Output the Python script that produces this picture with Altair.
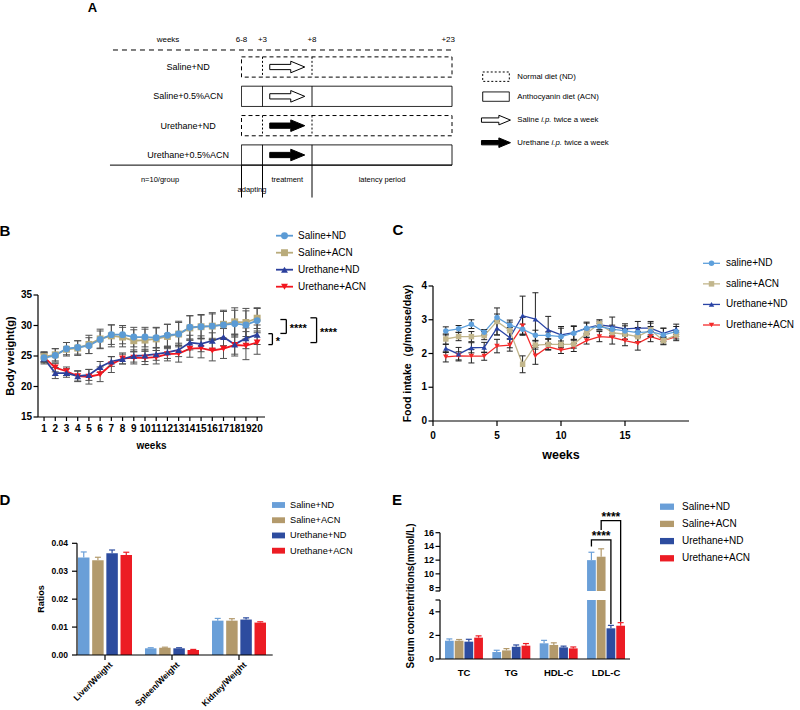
import altair as alt
import pandas as pd

FONT = "Liberation Sans"
W, H = 800, 710

# ---------------- Panel A: study design ----------------
groups = ["Saline+ND", "Saline+0.5%ACN", "Urethane+ND", "Urethane+0.5%ACN"]
group_diet = ["ND", "ACN", "ND", "ACN"]
group_injection = ["Saline", "Saline", "Urethane", "Urethane"]
stage_weeks = [0, 3, 8, 23]
stage_labels = ["6-8", "+3", "+8", "+23"]
phase_names = ["adapting", "treatment", "latency period"]
group_size_note = "n=10/group"
diet_kinds = ["ND", "ACN"]
diet_names = ["Normal diet (ND)", "Anthocyanin diet (ACN)"]
injections = ["Saline", "Urethane"]

# ---------------- Panel B: body weight ----------------
weeks_b = list(range(1, 21))
series_b = ["Saline+ND", "Saline+ACN", "Urethane+ND", "Urethane+ACN"]
bw_saline_nd = [24.7, 25.1, 26.2, 26.4, 26.7, 27.7, 28.5, 28.5, 28.1, 28.1, 28.0, 28.4, 28.6, 29.7, 29.8, 29.9, 30.1, 30.3, 30.1, 30.8]
bw_saline_acn = [24.9, 25.2, 26.1, 26.3, 26.9, 27.8, 28.3, 28.1, 27.5, 27.6, 27.8, 28.2, 28.6, 29.6, 29.8, 29.9, 30.2, 30.6, 30.5, 31.2]
bw_urethane_nd = [24.6, 22.2, 22.2, 21.7, 21.9, 23.2, 24.1, 24.5, 25.0, 25.1, 25.3, 25.6, 26.0, 27.2, 27.0, 27.5, 28.1, 26.9, 27.9, 28.5]
bw_urethane_acn = [24.8, 23.1, 22.5, 21.7, 21.6, 22.0, 23.6, 24.6, 24.7, 24.7, 24.8, 25.3, 25.4, 26.2, 26.3, 25.9, 26.2, 26.8, 26.7, 27.2]
sd_saline_nd = [0.8, 1.1, 1.0, 1.1, 1.3, 1.4, 1.6, 1.5, 1.6, 1.6, 1.6, 1.8, 1.9, 1.9, 1.9, 2.0, 2.2, 2.2, 2.3, 2.0]
sd_saline_acn = [0.8, 1.0, 1.1, 1.2, 1.5, 1.6, 1.8, 1.6, 1.8, 1.8, 1.9, 2.0, 2.1, 2.0, 2.0, 2.2, 2.3, 2.3, 2.3, 1.7]
sd_urethane_nd = [0.9, 0.9, 0.7, 0.8, 0.9, 0.9, 0.8, 0.8, 1.0, 1.0, 1.0, 1.0, 1.1, 1.2, 1.3, 1.3, 1.4, 1.6, 1.7, 1.6]
sd_urethane_acn = [0.8, 0.7, 0.7, 0.9, 1.2, 1.2, 1.3, 0.9, 1.0, 1.1, 1.1, 1.1, 1.4, 1.4, 1.6, 1.7, 1.6, 1.8, 2.3, 1.9]
ticks_b_y = [15, 20, 25, 30, 35]
sig_b_labels = ["*", "****", "****"]
sig_b_top = [28.66, 30.98, 31.26]
sig_b_bottom = [26.87, 28.7, 27.2]

# ---------------- Panel C: food intake ----------------
weeks_c = list(range(1, 20))
series_c = ["saline+ND", "saline+ACN", "Urethane+ND", "Urethane+ACN"]
fi_saline_nd = [2.67, 2.73, 2.87, 2.63, 3.07, 2.84, 2.72, 2.54, 2.54, 2.50, 2.60, 2.75, 2.80, 2.72, 2.67, 2.62, 2.65, 2.55, 2.65]
fi_saline_acn = [2.43, 2.50, 2.50, 2.53, 2.95, 2.68, 1.68, 2.25, 2.27, 2.27, 2.28, 2.60, 2.88, 2.62, 2.57, 2.50, 2.70, 2.38, 2.55]
fi_urethane_nd = [2.15, 1.98, 2.17, 2.18, 2.75, 2.47, 3.12, 3.02, 2.70, 2.55, 2.62, 2.75, 2.85, 2.80, 2.73, 2.75, 2.75, 2.60, 2.72]
fi_urethane_acn = [1.90, 1.93, 1.92, 1.92, 2.22, 2.25, 2.82, 1.93, 2.20, 2.10, 2.18, 2.38, 2.50, 2.48, 2.38, 2.30, 2.50, 2.38, 2.50]
fe_saline_nd = [0.12, 0.10, 0.13, 0.08, 0.10, 0.15, 0.15, 0.15, 0.10, 0.25, 0.20, 0.15, 0.10, 0.12, 0.15, 0.15, 0.15, 0.20, 0.15]
fe_saline_acn = [0.15, 0.12, 0.15, 0.12, 0.40, 0.25, 0.25, 0.12, 0.15, 0.10, 0.12, 0.12, 0.08, 0.10, 0.15, 0.15, 0.20, 0.12, 0.12]
fe_urethane_nd = [0.12, 0.20, 0.15, 0.15, 0.20, 0.30, 0.58, 0.78, 0.40, 0.25, 0.20, 0.18, 0.15, 0.28, 0.15, 0.20, 0.20, 0.15, 0.15]
fe_urethane_acn = [0.15, 0.12, 0.20, 0.12, 0.20, 0.18, 0.25, 0.25, 0.10, 0.10, 0.12, 0.10, 0.15, 0.20, 0.15, 0.20, 0.15, 0.10, 0.12]
ticks_c_x = [0, 5, 10, 15]
ticks_c_y = [0, 1, 2, 3, 4]

# ---------------- Panel D: organ ratios ----------------
organs = ["Liver/Weight", "Spleen/Weight", "Kidney/Weight"]
series_bar = ["Saline+ND", "Saline+ACN", "Urethane+ND", "Urethane+ACN"]
ratio_saline_nd = [0.0349, 0.0024, 0.0123]
ratio_saline_acn = [0.0339, 0.0026, 0.0123]
ratio_urethane_nd = [0.0364, 0.0024, 0.0127]
ratio_urethane_acn = [0.0358, 0.0018, 0.0116]
ratio_err_saline_nd = [0.0020, 0.0002, 0.0008]
ratio_err_saline_acn = [0.0011, 0.0002, 0.0007]
ratio_err_urethane_nd = [0.0012, 0.0002, 0.0006]
ratio_err_urethane_acn = [0.0010, 0.0002, 0.0003]
ticks_d_y = [0, 0.01, 0.02, 0.03, 0.04]
tick_labels_d_y = ["0.00", "0.01", "0.02", "0.03", "0.04"]

# ---------------- Panel E: serum lipids ----------------
lipids = ["TC", "TG", "HDL-C", "LDL-C"]
lipid_saline_nd = [1.55, 0.59, 1.33, 12.0]
lipid_saline_acn = [1.55, 0.73, 1.19, 12.5]
lipid_urethane_nd = [1.47, 1.04, 0.99, 2.6]
lipid_urethane_acn = [1.81, 1.13, 0.90, 2.82]
lipid_err_saline_nd = [0.15, 0.15, 0.25, 1.15]
lipid_err_saline_acn = [0.10, 0.15, 0.18, 1.15]
lipid_err_urethane_nd = [0.20, 0.15, 0.10, 0.25]
lipid_err_urethane_acn = [0.15, 0.18, 0.12, 0.26]
sig_e_labels = ["****", "****"]
sig_e_pairs = [("Saline+ND", "Urethane+ND"), ("Saline+ACN", "Urethane+ACN")]
sig_e_top = [14.94, 17.75]
sig_e_left_end = [14.0, 16.4]
sig_e_right_end = [2.97, 3.16]
axis_break = [5, 7.5]
axis_top = 16
ticks_e_y = [0, 2, 4, 5, 7.5, 8, 10, 12, 14, 16]
tick_labels_e_y = ["0", "2", "4", "", "", "8", "10", "12", "14", "16"]

# ---------------- styles ----------------
colors_b = ["#5b9bd5", "#b9ab7b", "#2b3f9c", "#f2161f"]
colors_c = ["#5ea0dc", "#c2b68c", "#2a44a5", "#f42a2a"]
colors_bar = ["#6a9fd8", "#b39a6c", "#2d4c9f", "#ec1c24"]
shapes = ["circle", "square", "triangle-up", "triangle-down"]
ARROW = "M-1,-0.15L0.2,-0.15L0.2,-0.33L1,0L0.2,0.33L0.2,0.15L-1,0.15Z"
RECT = "M-1,-0.45L1,-0.45L1,0.45L-1,0.45Z"
AX_W = 1.2


def long_df(xname, xs, catname, cats, values, errs):
    return pd.DataFrame({
        xname: [x for _ in cats for x in xs],
        catname: [c for c in cats for _ in xs],
        "value": [v for vals in values for v in vals],
        "err": [e for es in errs for e in es],
    })


def text_mark(**kw):
    base = dict(font=FONT, color="black")
    base.update(kw)
    return base


# ---------- hand-built axes (drawn through each panel's own scales) ----------
def y_axis(scale, values, labels, x0, segments, tick=4.5, pad=1.5, fs=10):
    df = pd.DataFrame({"v": values, "lab": labels})
    y = alt.Y("v:Q", scale=scale, axis=None)
    seg = pd.DataFrame({"a": [s[0] for s in segments], "b": [s[1] for s in segments]})
    return [
        alt.Chart(seg).mark_rule(color="black", strokeWidth=AX_W).encode(
            x=alt.value(x0), y=alt.Y("a:Q", scale=scale, axis=None), y2="b:Q"),
        alt.Chart(df).mark_rule(color="black", strokeWidth=AX_W).encode(
            x=alt.value(x0 - tick), x2=alt.value(x0), y=y),
        alt.Chart(df).mark_text(**text_mark(align="right", baseline="middle", fontSize=fs, fontWeight="bold")).encode(
            x=alt.value(x0 - tick - pad), y=y, text="lab:N"),
    ]


def x_axis_q(scale, values, labels, y0, lo, hi, tick=4.5, pad=2, fs=10):
    df = pd.DataFrame({"v": values, "lab": labels})
    x = alt.X("v:Q", scale=scale, axis=None)
    dom = pd.DataFrame({"a": [lo], "b": [hi]})
    return [
        alt.Chart(dom).mark_rule(color="black", strokeWidth=AX_W).encode(
            x=alt.X("a:Q", scale=scale, axis=None), x2="b:Q", y=alt.value(y0)),
        alt.Chart(df).mark_rule(color="black", strokeWidth=AX_W).encode(
            x=x, y=alt.value(y0), y2=alt.value(y0 + tick)),
        alt.Chart(df).mark_text(**text_mark(align="center", baseline="top", fontSize=fs, fontWeight="bold")).encode(
            x=x, y=alt.value(y0 + tick + pad), text="lab:N"),
    ]


def x_axis_band(scale, cats, y0, x_lo, x_hi, tick, label_y, fs, angle=0, align="center",
                baseline="middle", ldx=0, ldy=0):
    df = pd.DataFrame({"c": cats})
    x = alt.X("c:N", scale=scale, axis=None, sort=cats)
    out = [alt.Chart(pd.DataFrame({"a": [0]})).mark_rule(color="black", strokeWidth=AX_W).encode(
        x=alt.value(x_lo), x2=alt.value(x_hi), y=alt.value(y0))]
    if tick > 0:
        out.append(alt.Chart(df).mark_rule(color="black", strokeWidth=AX_W).encode(
            x=x, y=alt.value(y0), y2=alt.value(y0 + tick)))
    out.append(alt.Chart(df).mark_text(**text_mark(align=align, baseline=baseline, fontSize=fs,
                                                   fontWeight="bold", angle=angle, dx=ldx, dy=ldy)).encode(
        x=x, y=alt.value(label_y), text="c:N"))
    return out


def title_text(t, x, y, fs, angle=0):
    return alt.Chart(pd.DataFrame({"t": [t]})).mark_text(
        **text_mark(align="center", baseline="middle", fontSize=fs, fontWeight="bold", angle=angle)).encode(
        x=alt.value(x), y=alt.value(y), text="t:N")


# ======================= Panel A =======================
xA = alt.Scale(domain=stage_weeks, range=[241.5, 262.5, 312, 452])
yA = alt.Scale(domain=[0, 3], range=[67, 155])


def ax(f):
    return alt.X(f + ":Q", scale=xA, axis=None)


def ay(f):
    return alt.Y(f + ":Q", scale=yA, axis=None)


BOX = 0.345
HDR_Y, HDR_LINE_Y = -0.92, -0.58
LINE_X0, BOTTOM_X0 = -18.36, -18.79
NAME_X, WEEKS_X, NOTE_X = -7.64, -10.5, -11.64
PHASE_Y = 3.85
rows_df = pd.DataFrame({"group": groups, "row": list(range(len(groups))),
                        "diet": group_diet, "inj": group_injection,
                        "start": stage_weeks[0], "end": stage_weeks[-1]})
box_calc = dict(top=f"datum.row - {BOX}", bot=f"datum.row + {BOX}")

a_layers = []
for kind, dash in [("ND", [4, 3]), ("ACN", [1, 0])]:
    a_layers.append(
        alt.Chart(rows_df).transform_filter(f"datum.diet == '{kind}'")
        .transform_calculate(**box_calc)
        .mark_rect(fill="transparent", stroke="black", strokeWidth=1, strokeDash=dash)
        .encode(x=ax("start"), x2="end:Q", y=ay("top"), y2="bot:Q"))
div_df = pd.DataFrame([{"row": i, "diet": d, "week": w}
                       for i, d in enumerate(group_diet) for w in stage_weeks[1:-1]])
for kind, dash in [("ND", [2, 2]), ("ACN", [1, 0])]:
    a_layers.append(
        alt.Chart(div_df).transform_filter(f"datum.diet == '{kind}'")
        .transform_calculate(**box_calc)
        .mark_rule(color="black", strokeWidth=1, strokeDash=dash)
        .encode(x=ax("week"), y=ay("top"), y2="bot:Q"))
a_layers.append(
    alt.Chart(rows_df).transform_calculate(nx=str(NAME_X))
    .mark_text(**text_mark(fontSize=9, align="center", baseline="middle"))
    .encode(x=ax("nx"), y=ay("row"), text="group:N"))
a_layers.append(
    alt.Chart(rows_df)
    .transform_calculate(mx=f"({stage_weeks[1]} + {stage_weeks[2]}) / 2")
    .mark_point(shape=ARROW, size=1225, filled=True, opacity=1, stroke="black", strokeWidth=1)
    .encode(x=ax("mx"), y=ay("row"),
            fill=alt.Fill("inj:N", scale=alt.Scale(domain=injections, range=["white", "black"]), legend=None)))
hdr_df = pd.DataFrame({"week": stage_weeks, "label": stage_labels})
a_layers.append(
    alt.Chart(hdr_df).transform_filter(f"datum.week < {stage_weeks[-1]}")
    .transform_calculate(hy=str(HDR_Y))
    .mark_text(**text_mark(fontSize=8, align="center", baseline="middle"))
    .encode(x=ax("week"), y=ay("hy"), text="label:N"))
a_layers.append(
    alt.Chart(hdr_df).transform_filter(f"datum.week == {stage_weeks[-1]}")
    .transform_calculate(hy=str(HDR_Y))
    .mark_text(**text_mark(fontSize=8, align="right", baseline="middle", dx=3))
    .encode(x=ax("week"), y=ay("hy"), text="label:N"))
a_layers.append(
    alt.Chart(pd.DataFrame({"t": ["weeks"], "x": [WEEKS_X], "y": [HDR_Y]}))
    .mark_text(**text_mark(fontSize=8, align="center", baseline="middle"))
    .encode(x=ax("x"), y=ay("y"), text="t:N"))
a_layers.append(
    alt.Chart(pd.DataFrame({"x0": [LINE_X0], "x1": [stage_weeks[-1]], "y": [HDR_LINE_Y]}))
    .mark_rule(color="black", strokeWidth=1, strokeDash=[5, 4])
    .encode(x=ax("x0"), x2="x1:Q", y=ay("y")))
bottom_y = len(groups) - 1 + BOX
a_layers.append(
    alt.Chart(pd.DataFrame({"x0": [BOTTOM_X0], "x1": [stage_weeks[-1]], "y": [bottom_y]}))
    .mark_rule(color="black", strokeWidth=1)
    .encode(x=ax("x0"), x2="x1:Q", y=ay("y")))
a_layers.append(
    alt.Chart(pd.DataFrame({"week": stage_weeks[:-1]}))
    .transform_calculate(y0=str(bottom_y), y1="4.45")
    .mark_rule(color="black", strokeWidth=1)
    .encode(x=ax("week"), y=ay("y0"), y2="y1:Q"))
phase_df = pd.DataFrame({"phase": phase_names, "start": stage_weeks[:-1], "end": stage_weeks[1:]})
for first, dy in [(True, 10), (False, 0)]:
    cond = "datum.start == 0" if first else "datum.start > 0"
    a_layers.append(
        alt.Chart(phase_df).transform_filter(cond)
        .transform_calculate(mid="(datum.start + datum.end) / 2", py=str(PHASE_Y))
        .mark_text(**text_mark(fontSize=7.5, align="center", baseline="middle", dy=dy))
        .encode(x=ax("mid"), y=ay("py"), text="phase:N"))
a_layers.append(
    alt.Chart(pd.DataFrame({"t": [group_size_note], "x": [NOTE_X], "y": [PHASE_Y]}))
    .mark_text(**text_mark(fontSize=7.5, align="center", baseline="middle"))
    .encode(x=ax("x"), y=ay("y"), text="t:N"))
# design legend
leg_box = pd.DataFrame({"diet": diet_kinds, "label": diet_names, "yc": [0.33, 1.01]})
leg_box["x0"], leg_box["x1"], leg_box["tx"] = 26.29, 29.14, 30.0
for kind, dash in [("ND", [2, 2]), ("ACN", [1, 0])]:
    a_layers.append(
        alt.Chart(leg_box).transform_filter(f"datum.diet == '{kind}'")
        .transform_calculate(t="datum.yc - 0.16", b="datum.yc + 0.16")
        .mark_rect(fill="transparent", stroke="black", strokeWidth=1, strokeDash=dash)
        .encode(x=ax("x0"), x2="x1:Q", y=ay("t"), y2="b:Q"))
a_layers.append(
    alt.Chart(leg_box).mark_text(**text_mark(fontSize=7.8, align="left", baseline="middle"))
    .encode(x=ax("tx"), y=ay("yc"), text="label:N"))
leg_inj = pd.DataFrame({"inj": injections, "yc": [1.81, 2.58]})
leg_inj["x"], leg_inj["tx"] = 27.71, 30.0
a_layers.append(
    alt.Chart(leg_inj).mark_point(shape=ARROW, size=841, filled=True, opacity=1, stroke="black", strokeWidth=1)
    .encode(x=ax("x"), y=ay("yc"),
            fill=alt.Fill("inj:N", scale=alt.Scale(domain=injections, range=["white", "black"]), legend=None)))
for inj, dx1, dx2 in [("Saline", 23.8, 36.4), ("Urethane", 34.2, 46.8)]:
    base = alt.Chart(leg_inj).transform_filter(f"datum.inj == '{inj}'")
    a_layers.append(base.mark_text(**text_mark(fontSize=7.8, align="left", baseline="middle"))
                    .encode(x=ax("tx"), y=ay("yc"), text="inj:N"))
    a_layers.append(base.transform_calculate(t="'i.p.'")
                    .mark_text(**text_mark(fontSize=7.8, fontStyle="italic", align="left", baseline="middle", dx=dx1))
                    .encode(x=ax("tx"), y=ay("yc"), text="t:N"))
    a_layers.append(base.transform_calculate(t="'twice a week'")
                    .mark_text(**text_mark(fontSize=7.8, align="left", baseline="middle", dx=dx2))
                    .encode(x=ax("tx"), y=ay("yc"), text="t:N"))
panel_a = alt.layer(*a_layers)

# ======================= Panel B =======================
b_df = long_df("week", weeks_b, "series", series_b,
               [bw_saline_nd, bw_saline_acn, bw_urethane_nd, bw_urethane_acn],
               [sd_saline_nd, sd_saline_acn, sd_urethane_nd, sd_urethane_acn]).iloc[::-1]
xB = alt.Scale(domain=[0.46, 20.7], range=[38, 265])
yB = alt.Scale(domain=[15, 35], range=[417, 295])
colB = alt.Scale(domain=series_b, range=colors_b)
shpB = alt.Scale(domain=series_b, range=shapes)
bx = alt.X("week:Q", scale=xB, axis=None)
b_line = alt.Chart(b_df).mark_line(strokeWidth=1.8).encode(
    x=bx, y=alt.Y("value:Q", scale=yB, axis=None),
    color=alt.Color("series:N", scale=colB, legend=None))
b_errbase = alt.Chart(b_df).transform_calculate(lo="datum.value - datum.err", hi="datum.value + datum.err")
b_err = b_errbase.mark_rule(color="#505050", strokeWidth=1).encode(
    x=bx, y=alt.Y("lo:Q", scale=yB, axis=None), y2="hi:Q")
b_cap = b_errbase.transform_fold(["lo", "hi"], as_=["end", "cap"]).mark_tick(
    orient="horizontal", size=7, thickness=1, color="#505050", opacity=1).encode(
    x=bx, y=alt.Y("cap:Q", scale=yB, axis=None))
b_pts = alt.Chart(b_df).mark_point(filled=True, opacity=1, size=48).encode(
    x=bx, y=alt.Y("value:Q", scale=yB, axis=None),
    color=alt.Color("series:N", scale=colB, legend=None),
    shape=alt.Shape("series:N", scale=shpB, legend=None))
sig_b = pd.DataFrame({"label": sig_b_labels, "top": sig_b_top, "bottom": sig_b_bottom,
                      "x0": [21.0, 22.07, 24.75], "x1": [21.36, 22.6, 25.3]})
b_sig_v = alt.Chart(sig_b).mark_rule(color="black", strokeWidth=1.3).encode(
    x=alt.X("x1:Q", scale=xB, axis=None), y=alt.Y("top:Q", scale=yB, axis=None), y2="bottom:Q")
b_sig_h = alt.Chart(sig_b).transform_fold(["top", "bottom"], as_=["end", "yy"]).mark_rule(
    color="black", strokeWidth=1.3).encode(
    x=alt.X("x0:Q", scale=xB, axis=None), x2="x1:Q", y=alt.Y("yy:Q", scale=yB, axis=None))
b_sig_t = alt.Chart(sig_b).transform_calculate(
    mid="(datum.top + datum.bottom) / 2", tx="datum.x1 + 0.3").mark_text(
    **text_mark(fontSize=11, fontWeight="bold", align="left", baseline="alphabetic", dy=6)).encode(
    x=alt.X("tx:Q", scale=xB, axis=None), y=alt.Y("mid:Q", scale=yB, axis=None), text="label:N")
b_axes = (y_axis(yB, ticks_b_y, [str(v) for v in ticks_b_y], 38, [(15, 35)], tick=4.5, pad=1.5, fs=10)
          + x_axis_q(xB, weeks_b, [str(w) for w in weeks_b], 417, 0.46, 20.7, tick=4, pad=3, fs=10)
          + [title_text("Body weight(g)", 11, 356, 11, angle=270), title_text("weeks", 151.5, 446, 10)])
panel_b = alt.layer(b_line, b_err, b_cap, b_pts, b_sig_v, b_sig_h, b_sig_t, *b_axes)

# ======================= Panel C =======================
c_df = long_df("week", weeks_c, "series", series_c,
               [fi_saline_nd, fi_saline_acn, fi_urethane_nd, fi_urethane_acn],
               [fe_saline_nd, fe_saline_acn, fe_urethane_nd, fe_urethane_acn]).iloc[::-1]
xC = alt.Scale(domain=[0, 20], range=[433, 689])
yC = alt.Scale(domain=[0, 4], range=[421, 286])
colC = alt.Scale(domain=series_c, range=colors_c)
shpC = alt.Scale(domain=series_c, range=shapes)
cx = alt.X("week:Q", scale=xC, axis=None)
c_line = alt.Chart(c_df).mark_line(strokeWidth=1.3).encode(
    x=cx, y=alt.Y("value:Q", scale=yC, axis=None),
    color=alt.Color("series:N", scale=colC, legend=None))
c_errbase = alt.Chart(c_df).transform_calculate(lo="datum.value - datum.err", hi="datum.value + datum.err")
c_err = c_errbase.mark_rule(color="#222222", strokeWidth=1).encode(
    x=cx, y=alt.Y("lo:Q", scale=yC, axis=None), y2="hi:Q")
c_cap = c_errbase.transform_fold(["lo", "hi"], as_=["end", "cap"]).mark_tick(
    orient="horizontal", size=6, thickness=1, color="#222222", opacity=1).encode(
    x=cx, y=alt.Y("cap:Q", scale=yC, axis=None))
c_pts = alt.Chart(c_df).mark_point(filled=True, opacity=1, size=30).encode(
    x=cx, y=alt.Y("value:Q", scale=yC, axis=None),
    color=alt.Color("series:N", scale=colC, legend=None),
    shape=alt.Shape("series:N", scale=shpC, legend=None))
c_axes = (y_axis(yC, ticks_c_y, [str(v) for v in ticks_c_y], 433, [(0, 4)], tick=4.5, pad=1.5, fs=10)
          + x_axis_q(xC, ticks_c_x, [str(v) for v in ticks_c_x], 421, 0, 20, tick=5, pad=5, fs=10)
          + [title_text("Food intake（g/mouse/day)", 408, 353.5, 10.5, angle=270),
             title_text("weeks", 561, 455, 12.5)])
panel_c = alt.layer(c_line, c_err, c_cap, c_pts, *c_axes)


def line_legend(series, colors, y_range, x_line, x_pt, x_txt, fs, lw, psize):
    df = pd.DataFrame({"series": series})
    y = alt.Y("series:N", scale=alt.Scale(type="point", domain=series, range=y_range, padding=0), axis=None)
    col = alt.Color("series:N", scale=alt.Scale(domain=series, range=colors), legend=None)
    r = alt.Chart(df).mark_rule(strokeWidth=lw).encode(
        x=alt.value(x_line[0]), x2=alt.value(x_line[1]), y=y, color=col)
    p = alt.Chart(df).mark_point(filled=True, opacity=1, size=psize).encode(
        x=alt.value(x_pt), y=y, color=col,
        shape=alt.Shape("series:N", scale=alt.Scale(domain=series, range=shapes), legend=None))
    t = alt.Chart(df).mark_text(**text_mark(align="left", baseline="middle", fontSize=fs)).encode(
        x=alt.value(x_txt), y=y, text="series:N")
    return alt.layer(r, p, t)


def bar_legend(y_range, x_sym, x_txt, fs, size):
    df = pd.DataFrame({"series": series_bar})
    y = alt.Y("series:N", scale=alt.Scale(type="point", domain=series_bar, range=y_range, padding=0), axis=None)
    col = alt.Color("series:N", scale=alt.Scale(domain=series_bar, range=colors_bar), legend=None)
    s = alt.Chart(df).mark_point(shape=RECT, filled=True, opacity=1, size=size).encode(
        x=alt.value(x_sym), y=y, color=col)
    t = alt.Chart(df).mark_text(**text_mark(align="left", baseline="middle", fontSize=fs)).encode(
        x=alt.value(x_txt), y=y, text="series:N")
    return alt.layer(s, t)


legend_b = line_legend(series_b, colors_b, [235.7, 286.7], [276, 293], 284.5, 298, 10, 1.8, 48)
legend_c = line_legend(series_c, colors_c, [263.3, 325], [703, 720], 711.5, 726, 10, 1.3, 30)

# ======================= Panel D =======================
d_df = long_df("organ", organs, "series", series_bar,
               [ratio_saline_nd, ratio_saline_acn, ratio_urethane_nd, ratio_urethane_acn],
               [ratio_err_saline_nd, ratio_err_saline_acn, ratio_err_urethane_nd, ratio_err_urethane_acn])
xD = alt.Scale(domain=organs, range=[77, 272.7], paddingInner=0.194, paddingOuter=0.0575, align=0.13)
xoD = alt.Scale(domain=series_bar, paddingInner=0.19, paddingOuter=0)
yD = alt.Scale(domain=[0, 0.04], range=[655, 543.3])
colBar = alt.Scale(domain=series_bar, range=colors_bar)
dx_ = alt.X("organ:N", scale=xD, axis=None, sort=organs)
do_ = alt.XOffset("series:N", scale=xoD, sort=series_bar)
dcol = alt.Color("series:N", scale=colBar, legend=None)
d_bars = alt.Chart(d_df).mark_bar().encode(
    x=dx_, xOffset=do_, y=alt.Y("value:Q", scale=yD, axis=None), color=dcol)
d_errbase = alt.Chart(d_df).transform_calculate(hi="datum.value + datum.err")
d_err = d_errbase.mark_rule(strokeWidth=1.2).encode(
    x=dx_, xOffset=do_, y=alt.Y("value:Q", scale=yD, axis=None), y2="hi:Q", color=dcol)
d_cap = d_errbase.mark_tick(orient="horizontal", size=6, thickness=1.2, opacity=1).encode(
    x=dx_, xOffset=do_, y=alt.Y("hi:Q", scale=yD, axis=None), color=dcol)
d_axes = (y_axis(yD, ticks_d_y, tick_labels_d_y, 77, [(0, 0.04)], tick=5, pad=4, fs=8.5)
          + x_axis_band(xD, organs, 655, 77, 272.7, 5, 660.5, 8.5, angle=315, align="right",
                        baseline="top", ldx=2.1, ldy=2.1)
          + [title_text("Ratios", 40.5, 599, 9, angle=270)])
panel_d = alt.layer(d_bars, d_err, d_cap, *d_axes)
legend_d = bar_legend([505, 550.7], 278.5, 290, 9.2, 169)

# ======================= Panel E =======================
e_df = long_df("lipid", lipids, "series", series_bar,
               [lipid_saline_nd, lipid_saline_acn, lipid_urethane_nd, lipid_urethane_acn],
               [lipid_err_saline_nd, lipid_err_saline_acn, lipid_err_urethane_nd, lipid_err_urethane_acn])
xE = alt.Scale(domain=lipids, range=[440, 630], paddingInner=0.198, paddingOuter=0.105)
xoE = alt.Scale(domain=series_bar, paddingInner=0.1, paddingOuter=0)
yE = alt.Scale(domain=[0, axis_break[0], axis_break[1], axis_top], range=[659, 600, 591, 532.7])
ex = alt.X("lipid:N", scale=xE, axis=None, sort=lipids)
eo = alt.XOffset("series:N", scale=xoE, sort=series_bar)
ecol = alt.Color("series:N", scale=colBar, legend=None)
e_low = alt.Chart(e_df).transform_calculate(
    base="0", top=f"min(datum.value, {axis_break[0]})").mark_bar().encode(
    x=ex, xOffset=eo, y=alt.Y("base:Q", scale=yE, axis=None), y2="top:Q", color=ecol)
e_high = alt.Chart(e_df).transform_filter(f"datum.value > {axis_break[1]}").transform_calculate(
    base=str(axis_break[1])).mark_bar().encode(
    x=ex, xOffset=eo, y=alt.Y("base:Q", scale=yE, axis=None), y2="value:Q", color=ecol)
e_errbase = alt.Chart(e_df).transform_calculate(hi="datum.value + datum.err")
e_err = e_errbase.mark_rule(strokeWidth=1.2).encode(
    x=ex, xOffset=eo, y=alt.Y("value:Q", scale=yE, axis=None), y2="hi:Q", color=ecol)
e_cap = e_errbase.mark_tick(orient="horizontal", size=6, thickness=1.2, opacity=1).encode(
    x=ex, xOffset=eo, y=alt.Y("hi:Q", scale=yE, axis=None), color=ecol)
br_rows = []
for k, (a, b) in enumerate(sig_e_pairs):
    br_rows += [
        {"br": k, "ord": 0, "series": a, "y": sig_e_left_end[k]},
        {"br": k, "ord": 1, "series": a, "y": sig_e_top[k]},
        {"br": k, "ord": 2, "series": b, "y": sig_e_top[k]},
        {"br": k, "ord": 3, "series": b, "y": sig_e_right_end[k]},
    ]
br_df = pd.DataFrame(br_rows)
br_df["lipid"] = lipids[-1]
e_br = alt.Chart(br_df).mark_line(color="black", strokeWidth=1.3).encode(
    x=ex, xOffset=eo, y=alt.Y("y:Q", scale=yE, axis=None), detail="br:N", order="ord:Q")
brt_df = pd.DataFrame({"label": sig_e_labels, "y": sig_e_top,
                       "series": [series_bar[series_bar.index(a) + 1] for a, _ in sig_e_pairs]})
brt_df["lipid"] = lipids[-1]
e_brt = alt.Chart(brt_df).mark_text(**text_mark(fontSize=12, fontWeight="bold", baseline="alphabetic",
                                                align="center")).encode(
    x=ex, xOffset=eo, y=alt.Y("y:Q", scale=yE, axis=None), text="label:N")
e_axes = (y_axis(yE, ticks_e_y, tick_labels_e_y, 440, [(0, axis_break[0]), (axis_break[1], axis_top)],
                 tick=4.5, pad=1.5, fs=9)
          + x_axis_band(xE, lipids, 659, 440, 630, 0, 673, 9.5)
          + [title_text("Serum concentritions(mmol/L)", 411, 596, 10, angle=270)])
panel_e = alt.layer(e_low, e_high, e_err, e_cap, e_br, e_brt, *e_axes)
legend_e = bar_legend([506.7, 558.3], 667, 682, 10, 196)

# ======================= panel letters =======================
letter_layers = []
for letter, lx, ly, fs in [("A", 92.5, 8, 13), ("B", 5, 231, 15), ("C", 398, 230, 15),
                           ("D", 5, 500, 15), ("E", 397, 500, 15)]:
    letter_layers.append(title_text(letter, lx, ly, fs))

chart = alt.layer(
    panel_a, panel_b, legend_b, panel_c, legend_c, panel_d, legend_d, panel_e, legend_e, *letter_layers
).resolve_scale(
    x="independent", y="independent", color="independent", shape="independent",
    fill="independent", xOffset="independent"
).properties(
    width=W, height=H, padding=0, autosize=alt.AutoSizeParams(type="none"), background="white"
).configure(font=FONT).configure_view(stroke="transparent")

chart.save("out.html", embed_options={"renderer": "svg", "actions": False})
